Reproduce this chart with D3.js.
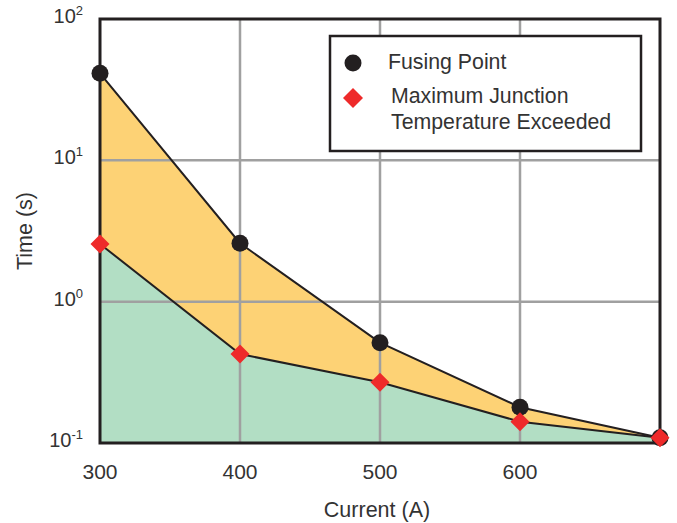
<!DOCTYPE html>
<html lang="en">
<head>
<meta charset="UTF-8">
<script src="https://d3js.org/d3.v7.min.js"></script>
<style>
  body { margin: 0; background: #fff; }
  text { font-family: "Liberation Sans", Arial, sans-serif; fill: #333; }
</style>
</head>
<body>
<div id="plot"></div>
<script>
// data
const current = [300, 400, 500, 600, 700];
const fusingTime = [41.3, 2.59, 0.513, 0.179, 0.109];
const junctionTime = [2.56, 0.426, 0.269, 0.1415, 0.109];
const xTicks = [300, 400, 500, 600];
const yExponents = [2, 1, 0, -1];
const legendLabels = ["Fusing Point", ["Maximum Junction", "Temperature Exceeded"]];

const width = 677, height = 523;
const margin = {top: 19, right: 17, bottom: 80, left: 100};
const visWidth = width - margin.left - margin.right;
const visHeight = height - margin.top - margin.bottom;

const svg = d3.select('#plot').append('svg')
    .attr('width', width)
    .attr('height', height);

const g = svg.append('g')
    .attr('transform', `translate(${margin.left}, ${margin.top})`);

const x = d3.scaleLinear().domain([300, 700]).range([0, visWidth]);
const y = d3.scaleLog().domain([0.1, 100]).range([visHeight, 0]);

const pts = current.map((c, i) => ({c, f: fusingTime[i], j: junctionTime[i]}));

// green area under junction curve
g.append('path')
    .datum(pts)
    .attr('fill', '#b2dec4')
    .attr('d', d3.area().x(d => x(d.c)).y0(visHeight).y1(d => y(d.j)));

// orange band between the curves
g.append('path')
    .datum(pts)
    .attr('fill', '#fdd275')
    .attr('d', d3.area().x(d => x(d.c)).y0(d => y(d.j)).y1(d => y(d.f)));

// grid
g.selectAll('.vgrid')
    .data([400, 500, 600])
    .join('line')
      .attr('x1', d => x(d)).attr('x2', d => x(d))
      .attr('y1', 0).attr('y2', visHeight)
      .attr('stroke', '#a0a0a0')
      .attr('stroke-width', 2.5);

g.selectAll('.hgrid')
    .data([10, 1])
    .join('line')
      .attr('x1', 0).attr('x2', visWidth)
      .attr('y1', d => y(d)).attr('y2', d => y(d))
      .attr('stroke', '#a0a0a0')
      .attr('stroke-width', 2.5);

// curves
const line = acc => d3.line().x(d => x(d.c)).y(d => y(acc(d)));
g.append('path').datum(pts)
    .attr('fill', 'none').attr('stroke', '#231f20').attr('stroke-width', 2)
    .attr('d', line(d => d.j));
g.append('path').datum(pts)
    .attr('fill', 'none').attr('stroke', '#231f20').attr('stroke-width', 2)
    .attr('d', line(d => d.f));

// frame
g.append('rect')
    .attr('width', visWidth).attr('height', visHeight)
    .attr('fill', 'none')
    .attr('stroke', '#231f20')
    .attr('stroke-width', 3);

// markers
g.selectAll('.fuse')
    .data(pts)
    .join('circle')
      .attr('cx', d => x(d.c))
      .attr('cy', d => y(d.f))
      .attr('r', 8.5)
      .attr('fill', '#231f20');

const diamond = s => `M0,${-s}L${s},0L0,${s}L${-s},0Z`;
g.selectAll('.junc')
    .data(pts)
    .join('path')
      .attr('transform', d => `translate(${x(d.c)},${y(d.j)})`)
      .attr('d', diamond(9.5))
      .attr('fill', '#ee2a2a');

// x tick labels
g.selectAll('.xt')
    .data(xTicks)
    .join('text')
      .attr('x', d => x(d))
      .attr('y', visHeight + 36)
      .attr('text-anchor', 'middle')
      .attr('font-size', 21)
      .text(d => d);

// y tick labels with superscripts
const yl = g.selectAll('.yt')
    .data(yExponents)
    .join('text')
      .attr('x', -17)
      .attr('y', d => y(Math.pow(10, d)) + 4)
      .attr('text-anchor', 'end')
      .attr('font-size', 20);
yl.append('tspan').text('10');
yl.append('tspan')
    .attr('font-size', 13)
    .attr('dy', -8)
    .text(d => d);

// axis titles
svg.append('text')
    .attr('x', margin.left + visWidth / 2 - 3)
    .attr('y', 517)
    .attr('text-anchor', 'middle')
    .attr('font-size', 21.5)
    .text('Current (A)');

svg.append('text')
    .attr('transform', `translate(32, ${margin.top + visHeight / 2}) rotate(-90)`)
    .attr('text-anchor', 'middle')
    .attr('font-size', 21.5)
    .text('Time (s)');

// legend
const lg = svg.append('g');
lg.append('rect')
    .attr('x', 330).attr('y', 36)
    .attr('width', 311).attr('height', 115)
    .attr('fill', '#fff')
    .attr('stroke', '#231f20')
    .attr('stroke-width', 2.5);
lg.append('circle').attr('cx', 353).attr('cy', 63).attr('r', 8.5).attr('fill', '#231f20');
lg.append('path').attr('transform', 'translate(353,98)').attr('d', diamond(10)).attr('fill', '#ee2a2a');
lg.append('text').attr('x', 388).attr('y', 69).attr('font-size', 21.3).text(legendLabels[0]);
lg.append('text').attr('x', 391).attr('y', 103).attr('font-size', 21.3).text(legendLabels[1][0]);
lg.append('text').attr('x', 391).attr('y', 129).attr('font-size', 21.3).text(legendLabels[1][1]);
</script>
</body>
</html>
